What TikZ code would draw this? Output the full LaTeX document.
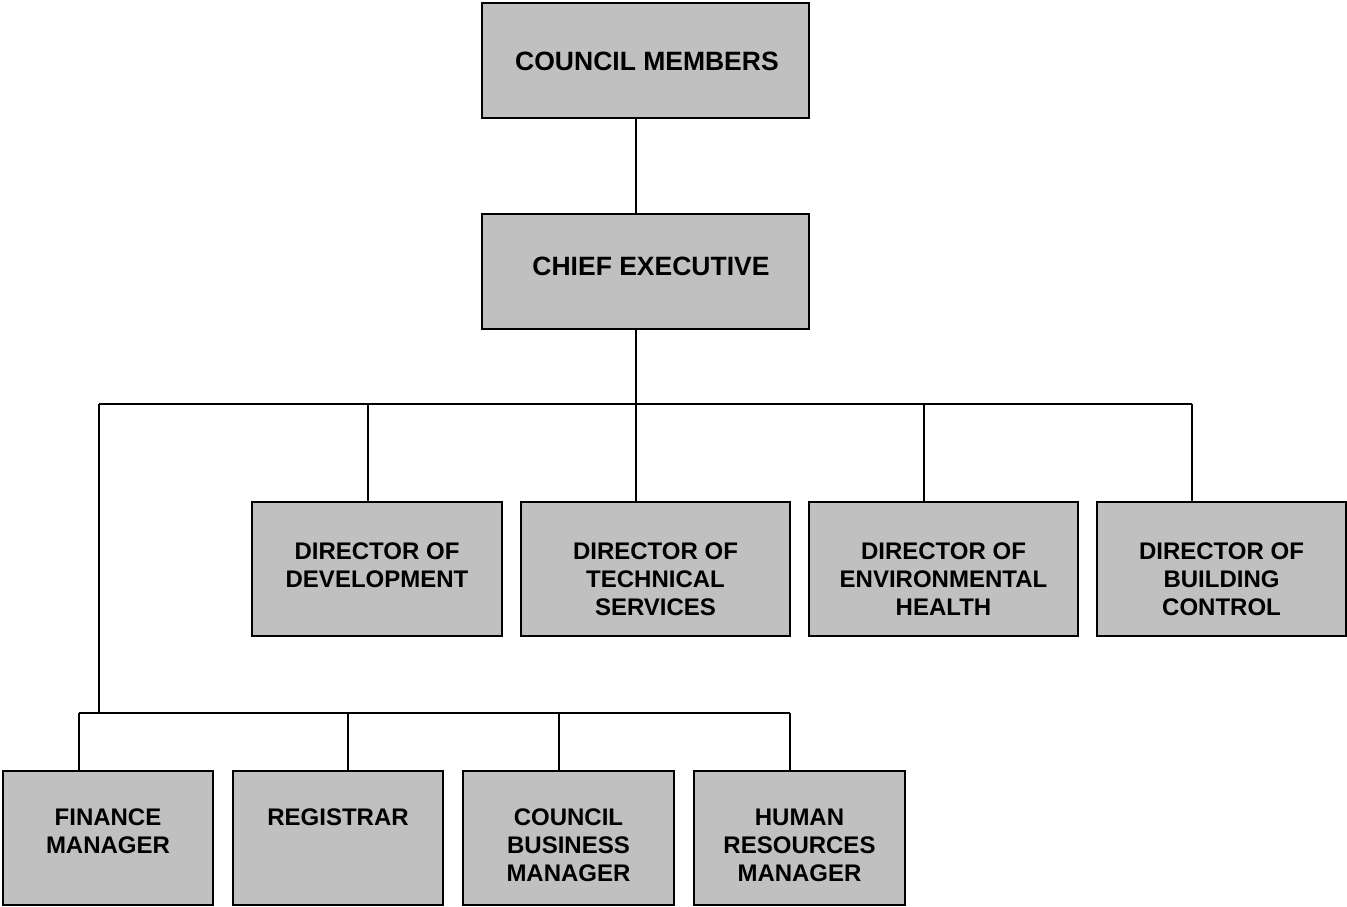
\documentclass[tikz,border=0pt]{standalone}
\usepackage{fontspec}
\setmainfont{Liberation Sans}
\definecolor{boxgray}{HTML}{C0C0C0}
\begin{document}
\begin{tikzpicture}[x=1pt,y=-1pt,
  box/.style={draw=black, line width=2pt, fill=boxgray, inner sep=0pt},
  dirbox/.style={box, minimum height=134pt},
  lbl/.style={inner sep=0pt, align=center, anchor=north, font=\fontsize{24}{28}\bfseries\selectfont},
  toplbl/.style={inner sep=0pt, font=\fontsize{26.5}{30}\bfseries\selectfont},
  conn/.style={draw=black, line width=1.5pt}]
\useasboundingbox (0,0) rectangle (1347,907);
% boxes
\node[box, minimum width=327pt, minimum height=115pt] (council) at (645.5,60.5) {};
\node[box, minimum width=327pt, minimum height=115pt] (chief) at (645.5,271.5) {};
\node[dirbox, minimum width=250pt] (dev) at (377,569) {};
\node[dirbox, minimum width=269pt] (tech) at (655.5,569) {};
\node[dirbox, minimum width=269pt] (env) at (943.5,569) {};
\node[dirbox, minimum width=249pt] (build) at (1221.5,569) {};
\node[dirbox, minimum width=210pt] (fin) at (108,838) {};
\node[dirbox, minimum width=210pt] (reg) at (338,838) {};
\node[dirbox, minimum width=211pt] (cbm) at (568.5,838) {};
\node[dirbox, minimum width=211pt] (hr) at (799.5,838) {};
% labels
\node[toplbl] (tcouncil) at (647,61) {COUNCIL MEMBERS};
\node[toplbl] (tchief) at (651,266) {CHIEF EXECUTIVE};
\node[lbl] (tdev) at (377,542.5) {DIRECTOR OF\\DEVELOPMENT};
\node[lbl] (ttech) at (655.5,542.5) {DIRECTOR OF\\TECHNICAL\\SERVICES};
\node[lbl] (tenv) at (943.5,542.5) {DIRECTOR OF\\ENVIRONMENTAL\\HEALTH};
\node[lbl] (tbuild) at (1221.5,542.5) {DIRECTOR OF\\BUILDING\\CONTROL};
\node[lbl] (tfin) at (108,808.5) {FINANCE\\MANAGER};
\node[lbl] (treg) at (338,808.5) {REGISTRAR};
\node[lbl] (tcbm) at (568.5,808.5) {COUNCIL\\BUSINESS\\MANAGER};
\node[lbl] (thr) at (799.5,808.5) {HUMAN\\RESOURCES\\MANAGER};
% junctions
\coordinate (j1) at (636,404);
\coordinate (busL) at (99,404);
\coordinate (busR) at (1192,404);
\coordinate (j2) at (99,713);
\coordinate (bus2L) at (79,713);
\coordinate (bus2R) at (790,713);
% connectors
\draw[conn] (council.south -| j1) -- (chief.north -| j1);
\draw[conn] (chief.south -| j1) -- (j1);
\draw[conn] (busL) -- (busR);
\draw[conn] ([xshift=-9pt]dev.north) -- ([xshift=-9pt]dev.north |- j1);
\draw[conn] ([xshift=-19.5pt]tech.north) -- ([xshift=-19.5pt]tech.north |- j1);
\draw[conn] ([xshift=-19.5pt]env.north) -- ([xshift=-19.5pt]env.north |- j1);
\draw[conn] ([xshift=-29.5pt]build.north) -- ([xshift=-29.5pt]build.north |- j1);
\draw[conn] (busL) -- (j2);
\draw[conn] (bus2L) -- (bus2R);
\draw[conn] ([xshift=-29pt]fin.north) -- ([xshift=-29pt]fin.north |- j2);
\draw[conn] ([xshift=10pt]reg.north) -- ([xshift=10pt]reg.north |- j2);
\draw[conn] ([xshift=-9.5pt]cbm.north) -- ([xshift=-9.5pt]cbm.north |- j2);
\draw[conn] ([xshift=-9.5pt]hr.north) -- ([xshift=-9.5pt]hr.north |- j2);
\end{tikzpicture}
\end{document}
